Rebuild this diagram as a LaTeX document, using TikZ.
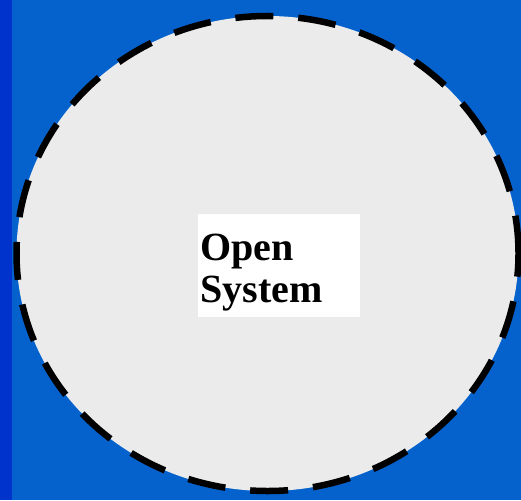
\documentclass[tikz,border=0pt]{standalone}
\usepackage{fontspec}
\setmainfont{Liberation Serif}
\usetikzlibrary{shapes.geometric}
\definecolor{deepblue}{HTML}{0033CC}
\definecolor{slideblue}{HTML}{0562CC}
\definecolor{bubble}{HTML}{EBEBEB}

\begin{document}
\begin{tikzpicture}[x=1pt, y=-1pt,
    boundary/.style={draw=black, ellipse, fill=bubble, line width=6.5pt,
                     dash pattern=on 38pt off 25pt, inner sep=0pt,
                     minimum width=502pt, minimum height=475pt},
    namebox/.style={fill=white, anchor=north west, inner xsep=2pt, inner ysep=0pt,
                    text width=158pt, align=left,
                    font=\fontsize{40}{42}\selectfont\bfseries}
  ]
  % slide background
  \fill[slideblue] (0,0) rectangle (521,500);
  \fill[deepblue] (0,0) rectangle (12,500);
  \useasboundingbox (0,0) rectangle (521,500);

  \node[boundary] (sys) at (267.5,253.5) {};
  \node[namebox] (name) at (198,214)
    {\rule{0pt}{46pt}Open\\System\rule[-15pt]{0pt}{0pt}};
\end{tikzpicture}
\end{document}
